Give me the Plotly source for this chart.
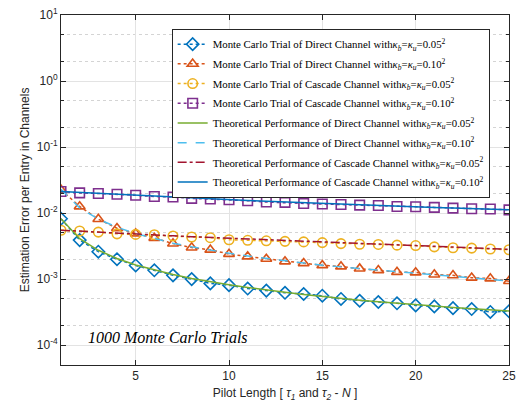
import plotly.graph_objects as go

tau = list(range(1, 26))

mc_direct_005 = [8.2e-3, 3.9e-3, 2.6e-3, 2.0e-3, 1.61e-3, 1.36e-3, 1.14e-3, 1.0e-3, 8.6e-4, 8.1e-4,
                 7.2e-4, 6.7e-4, 6.2e-4, 5.95e-4, 5.6e-4, 5.0e-4, 4.7e-4, 4.5e-4, 4.3e-4, 4.0e-4,
                 3.86e-4, 3.63e-4, 3.52e-4, 3.18e-4, 3.26e-4]
mc_direct_010 = [2.25e-2, 1.26e-2, 8.1e-3, 5.9e-3, 4.9e-3, 4.2e-3, 3.45e-3, 3.0e-3, 2.78e-3, 2.4e-3,
                 2.2e-3, 2.02e-3, 1.85e-3, 1.74e-3, 1.62e-3, 1.55e-3, 1.44e-3, 1.36e-3, 1.28e-3, 1.26e-3,
                 1.17e-3, 1.14e-3, 1.05e-3, 1.02e-3, 9.3e-4]
mc_casc_005 = [5.5e-3, 5.35e-3, 5.15e-3, 4.85e-3, 4.75e-3, 4.7e-3, 4.5e-3, 4.34e-3, 4.24e-3, 3.95e-3,
               3.87e-3, 3.8e-3, 3.73e-3, 3.66e-3, 3.57e-3, 3.45e-3, 3.37e-3, 3.35e-3, 3.27e-3, 3.22e-3,
               3.08e-3, 2.98e-3, 2.95e-3, 2.86e-3, 2.78e-3]
mc_casc_010 = [2.12e-2, 2.02e-2, 1.98e-2, 1.93e-2, 1.86e-2, 1.78e-2, 1.75e-2, 1.67e-2, 1.63e-2, 1.59e-2,
               1.54e-2, 1.47e-2, 1.45e-2, 1.40e-2, 1.37e-2, 1.35e-2, 1.32e-2, 1.30e-2, 1.26e-2, 1.25e-2,
               1.22e-2, 1.19e-2, 1.16e-2, 1.15e-2, 1.12e-2]

th_direct_005 = [8.2e-3, 4.1e-3, 2.73e-3, 2.05e-3, 1.64e-3, 1.37e-3, 1.17e-3, 1.02e-3, 9.1e-4, 8.2e-4,
                 7.45e-4, 6.8e-4, 6.3e-4, 5.85e-4, 5.45e-4, 5.1e-4, 4.8e-4, 4.55e-4, 4.3e-4, 4.1e-4,
                 3.9e-4, 3.73e-4, 3.56e-4, 3.42e-4, 3.28e-4]
th_direct_010 = [2.3e-2, 1.2e-2, 8.1e-3, 6.1e-3, 4.9e-3, 4.1e-3, 3.5e-3, 3.08e-3, 2.74e-3, 2.46e-3,
                 2.24e-3, 2.05e-3, 1.89e-3, 1.75e-3, 1.62e-3, 1.53e-3, 1.45e-3, 1.37e-3, 1.29e-3, 1.22e-3,
                 1.16e-3, 1.1e-3, 1.04e-3, 9.9e-4, 9.4e-4]
th_casc_005 = [5.5e-3, 5.3e-3, 5.12e-3, 4.95e-3, 4.8e-3, 4.65e-3, 4.52e-3, 4.39e-3, 4.27e-3, 4.15e-3,
               4.04e-3, 3.93e-3, 3.83e-3, 3.73e-3, 3.64e-3, 3.55e-3, 3.46e-3, 3.38e-3, 3.3e-3, 3.22e-3,
               3.14e-3, 3.06e-3, 2.98e-3, 2.9e-3, 2.82e-3]
th_casc_010 = [2.12e-2, 2.05e-2, 1.98e-2, 1.92e-2, 1.86e-2, 1.8e-2, 1.75e-2, 1.69e-2, 1.64e-2, 1.6e-2,
               1.55e-2, 1.51e-2, 1.47e-2, 1.43e-2, 1.4e-2, 1.36e-2, 1.33e-2, 1.3e-2, 1.27e-2, 1.24e-2,
               1.21e-2, 1.19e-2, 1.16e-2, 1.14e-2, 1.12e-2]

x_ticks = [5, 10, 15, 20, 25]
y_ticks = [1e-4, 1e-3, 1e-2, 1e-1, 1e0, 1e1]
y_ticktext = ["10<sup>-4</sup>", "10<sup>-3</sup>", "10<sup>-2</sup>", "10<sup>-1</sup>",
              "10<sup>0</sup>", "10<sup>1</sup>"]

k005 = "with<i>κ</i><sub><i>b</i></sub>=<i>κ</i><sub><i>u</i></sub>=0.05<sup>2</sup>"
k010 = "with<i>κ</i><sub><i>b</i></sub>=<i>κ</i><sub><i>u</i></sub>=0.10<sup>2</sup>"

names = [
    "Monte Carlo Trial of Direct Channel " + k005,
    "Monte Carlo Trial of Direct Channel " + k010,
    "Monte Carlo Trial of Cascade Channel " + k005,
    "Monte Carlo Trial of Cascade Channel " + k010,
    "Theoretical Performance of Direct Channel " + k005,
    "Theoretical Performance of Direct Channel " + k010,
    "Theoretical Performance of Cascade Channel " + k005,
    "Theoretical Performance of Cascade Channel " + k010,
]

fig = go.Figure()

mc_specs = [
    (mc_direct_005, "#0072BD", "diamond-open", "dot"),
    (mc_direct_010, "#D95319", "triangle-up-open", "dot"),
    (mc_casc_005, "#EDB120", "circle-open", "dot"),
    (mc_casc_010, "#7E2F8E", "square-open", "dot"),
]
for i, (ys, col, sym, dash) in enumerate(mc_specs):
    fig.add_trace(go.Scatter(
        x=tau, y=ys, name=names[i], mode="lines+markers",
        line=dict(color=col, width=1.5, dash=dash),
        marker=dict(symbol=sym, size=9.5, color=col, line=dict(width=1.6, color=col)),
        legendgroup=f"g{i}",
    ))

th_specs = [
    (th_direct_005, "#77AC30", "solid"),
    (th_direct_010, "#4DBEEE", "dash"),
    (th_casc_005, "#A2142F", "dashdot"),
    (th_casc_010, "#0072BD", "solid"),
]
for j, (ys, col, dash) in enumerate(th_specs):
    fig.add_trace(go.Scatter(
        x=tau, y=ys, name=names[4 + j], mode="lines",
        line=dict(color=col, width=1.5, dash=dash),
        legendgroup=f"g{4 + j}",
    ))

axis_col = "#262626"
grid_col = "#e3e3e3"

fig.update_layout(
    width=522, height=414,
    margin=dict(l=61, r=6, t=8, b=49),
    paper_bgcolor="white", plot_bgcolor="white",
    font=dict(family="Liberation Sans, Arial, sans-serif", size=12, color=axis_col),
    showlegend=True,
    legend=dict(
        x=0.247, y=0.961, xanchor="left", yanchor="top",
        bgcolor="white", bordercolor=axis_col, borderwidth=1,
        font=dict(family="Liberation Serif, Times New Roman, serif", size=10.8, color="#000000"),
        tracegroupgap=0.7,
    ),
    xaxis=dict(
        range=[0.9999, 25.0001], tickvals=x_ticks, ticktext=[str(v) for v in x_ticks],
        ticklabeloverflow="allow",
        showline=True, linecolor=axis_col, linewidth=1, mirror="allticks",
        ticks="inside", ticklen=5, tickcolor=axis_col,
        showgrid=True, gridcolor=grid_col, gridwidth=1,
        zeroline=False,
        title=dict(text="Pilot Length [ <i>τ</i><sub><i>1</i></sub> and <i>τ</i><sub><i>2</i></sub> - <i>N</i> ]",
                   standoff=6, font=dict(size=12)),
        tickfont=dict(size=12),
    ),
    yaxis=dict(
        type="log", range=[-4.301, 1.0001],
        tickvals=y_ticks, ticktext=y_ticktext,
        ticklabeloverflow="allow",
        showline=True, linecolor=axis_col, linewidth=1, mirror="allticks",
        ticks="inside", ticklen=5, tickcolor=axis_col,
        showgrid=True, gridcolor=grid_col, gridwidth=1,
        minor=dict(ticks="inside", ticklen=3, tickcolor=axis_col, showgrid=True,
                   gridcolor="#d4d4d4", griddash="dot", gridwidth=1),
        zeroline=False,
        title=dict(text="Estimation Error per Entry in Channels", standoff=4, font=dict(size=12)),
        tickfont=dict(size=12),
    ),
    annotations=[dict(
        x=0.055, y=0.08, xref="paper", yref="paper", xanchor="left", yanchor="middle",
        text="<i>1000 Monte Carlo Trials</i>", showarrow=False,
        font=dict(family="Liberation Serif, Times New Roman, serif", size=16, color="#000000"),
    )],
)

fig.write_html("out.html")
